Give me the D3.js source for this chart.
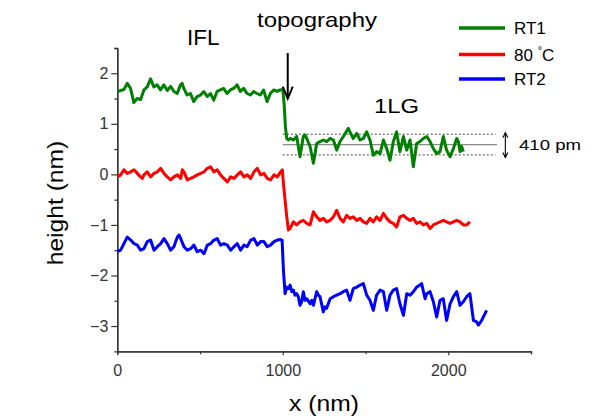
<!DOCTYPE html>
<html>
<head>
<meta charset="utf-8">
<script src="https://cdn.jsdelivr.net/npm/d3@7/dist/d3.min.js"></script>
<style>
  html, body { margin: 0; padding: 0; background: #ffffff; }
  svg { display: block; }
  text { font-family: "Liberation Sans", Arial, Helvetica, sans-serif; }
</style>
</head>
<body>
<svg id="chart" width="600" height="418"></svg>
<script>
// Height profiles across the IFL / 1LG step, [x (nm), height (nm)]
const rt1 = [
  [0,1.64],[40,1.68],[60,1.80],[80,1.70],[100,1.42],[120,1.50],[141,1.48],[161,1.67],
  [181,1.73],[201,1.89],[221,1.73],[241,1.77],[261,1.67],[281,1.77],[302,1.66],[322,1.74],
  [342,1.64],[362,1.60],[382,1.77],[392,1.80],[402,1.70],[422,1.57],[442,1.60],[462,1.44],
  [482,1.54],[503,1.57],[523,1.64],[543,1.54],[563,1.60],[583,1.47],[603,1.64],[623,1.67],
  [643,1.70],[663,1.60],[683,1.67],[703,1.70],[724,1.77],[744,1.64],[764,1.70],[784,1.60],
  [804,1.57],[824,1.64],[844,1.60],[864,1.57],[884,1.67],[905,1.44],[925,1.60],[945,1.67],
  [965,1.64],[985,1.67],[1000,1.68],[1008,1.40],[1016,0.94],[1024,0.71],[1034,0.68],
  [1044,0.71],[1064,0.68],[1084,0.75],[1104,0.35],[1124,0.75],[1134,0.78],[1145,0.71],
  [1165,0.55],[1185,0.22],[1205,0.61],[1225,0.65],[1245,0.68],[1265,0.65],[1286,0.71],
  [1306,0.68],[1326,0.48],[1346,0.65],[1366,0.75],[1396,0.91],[1406,0.84],[1426,0.71],
  [1447,0.81],[1467,0.68],[1487,0.71],[1507,0.84],[1527,0.68],[1547,0.38],[1567,0.45],
  [1588,0.41],[1608,0.68],[1628,0.51],[1648,0.28],[1668,0.65],[1688,0.84],[1708,0.45],
  [1729,0.75],[1749,0.48],[1769,0.68],[1789,0.15],[1809,0.61],[1829,0.65],[1849,0.71],
  [1870,0.75],[1890,0.65],[1910,0.51],[1930,0.41],[1950,0.45],[1970,0.75],[1990,0.48],
  [2011,0.35],[2031,0.51],[2051,0.71],[2061,0.65],[2071,0.45],[2081,0.55],[2091,0.45]
];

const heated = [
  [0,-0.05],[20,-0.01],[40,0.09],[60,0.02],[81,0.05],[101,0.09],[121,0.02],[141,-0.05],
  [151,-0.08],[161,-0.01],[181,0.05],[201,-0.05],[222,0.02],[242,0.05],[262,0.12],[282,0.02],
  [302,-0.05],[322,-0.11],[342,-0.05],[363,-0.01],[383,-0.08],[393,0.09],[403,0.05],[423,-0.11],
  [443,-0.08],[463,-0.05],[483,-0.01],[504,0.02],[524,0.05],[544,0.12],[564,0.15],[584,0.05],
  [604,0.09],[624,-0.01],[644,-0.08],[665,-0.15],[685,-0.05],[705,-0.08],[725,-0.01],[745,0.05],
  [765,-0.05],[785,-0.01],[806,-0.08],[826,0.05],[846,0.12],[866,-0.01],[886,0.02],[906,-0.08],
  [926,-0.11],[947,-0.01],[967,-0.05],[987,0.05],[997,0.09],[1004,-0.18],[1014,-0.51],
  [1024,-0.84],[1034,-1.10],[1044,-1.07],[1064,-0.94],[1084,-1.00],[1104,-0.94],[1124,-0.91],
  [1145,-0.97],[1165,-1.00],[1185,-0.74],[1205,-0.84],[1225,-0.91],[1245,-0.87],[1265,-0.94],
  [1286,-0.91],[1306,-0.84],[1326,-0.71],[1346,-0.87],[1366,-0.94],[1386,-0.81],[1406,-0.87],
  [1426,-0.84],[1447,-0.91],[1467,-0.87],[1487,-0.94],[1507,-0.97],[1527,-0.87],[1547,-0.94],
  [1567,-0.84],[1588,-0.91],[1608,-0.77],[1628,-0.87],[1648,-0.94],[1668,-0.97],[1688,-1.04],
  [1708,-0.84],[1729,-0.81],[1749,-0.87],[1769,-0.91],[1789,-0.87],[1809,-0.97],[1829,-0.94],
  [1849,-1.00],[1870,-0.97],[1890,-1.07],[1910,-1.00],[1930,-0.97],[1950,-0.94],[1970,-0.91],
  [1990,-0.94],[2011,-0.97],[2031,-0.94],[2051,-0.91],[2071,-0.94],[2091,-1.00],[2111,-1.00],
  [2131,-0.94]
];

const rt2 = [
  [0,-1.53],[20,-1.50],[40,-1.37],[60,-1.24],[81,-1.30],[101,-1.37],[121,-1.40],[141,-1.50],
  [161,-1.47],[181,-1.33],[201,-1.30],[222,-1.50],[242,-1.43],[262,-1.37],[282,-1.27],[302,-1.37],
  [322,-1.50],[342,-1.43],[363,-1.24],[373,-1.20],[383,-1.27],[403,-1.43],[423,-1.50],[443,-1.47],
  [463,-1.40],[483,-1.53],[504,-1.50],[524,-1.57],[544,-1.40],[564,-1.37],[584,-1.30],[604,-1.27],
  [624,-1.40],[644,-1.37],[665,-1.40],[685,-1.50],[705,-1.43],[725,-1.37],[745,-1.50],[765,-1.40],
  [785,-1.43],[806,-1.30],[826,-1.27],[846,-1.40],[866,-1.33],[886,-1.33],[906,-1.43],[926,-1.40],
  [947,-1.33],[967,-1.30],[987,-1.29],[996,-1.30],[1004,-1.90],[1014,-2.36],[1024,-2.23],
  [1034,-2.26],[1044,-2.19],[1054,-2.32],[1064,-2.29],[1074,-2.39],[1084,-2.36],[1094,-2.42],
  [1104,-2.59],[1114,-2.52],[1124,-2.32],[1134,-2.49],[1145,-2.46],[1165,-2.56],[1175,-2.49],
  [1185,-2.59],[1205,-2.32],[1215,-2.39],[1225,-2.42],[1245,-2.72],[1255,-2.62],[1265,-2.65],
  [1286,-2.46],[1306,-2.42],[1326,-2.39],[1346,-2.36],[1366,-2.32],[1386,-2.29],[1406,-2.49],
  [1426,-2.26],[1447,-2.23],[1467,-2.19],[1487,-2.16],[1507,-2.39],[1527,-2.49],[1547,-2.69],
  [1567,-2.39],[1588,-2.29],[1608,-2.32],[1628,-2.69],[1648,-2.39],[1668,-2.29],[1688,-2.26],
  [1708,-2.56],[1729,-2.79],[1749,-2.36],[1769,-2.39],[1789,-2.32],[1809,-2.23],[1829,-2.19],
  [1839,-2.16],[1860,-2.46],[1870,-2.36],[1890,-2.32],[1910,-2.52],[1930,-2.82],[1950,-2.49],
  [1970,-2.46],[1990,-2.89],[2011,-2.56],[2031,-2.42],[2051,-2.32],[2071,-2.59],[2091,-2.52],
  [2111,-2.42],[2131,-2.36],[2152,-2.89],[2172,-2.92],[2182,-2.98],[2202,-2.89],[2212,-2.82],
  [2232,-2.69]
];

const seriesNames = ["RT1", "80 °C", "RT2"];
const seriesColors = ["#008000", "#ff0000", "#0000ff"];

const xMajorTicks = [0, 1000, 2000];
const xMinorTicks = [500, 1500, 2500];
const yMajorTicks = [-3, -2, -1, 0, 1, 2];
const yMinorTicks = [-2.5, -1.5, -0.5, 0.5, 1.5, 2.5];

// Step height of the 1LG region on RT1: mean level and 410 pm band
const stepLevel = 0.59;
const stepHeight = 0.41;

const svg = d3.select("#chart");
const x = d3.scaleLinear().domain([0, 2500]).range([117.3, 531]);
const y = d3.scaleLinear().domain([-3.5, 2.5]).range([351.3, 48]);

// Text helper with optional horizontal stretch and rotation
function label(str, px, py, size, opts = {}) {
  const g = svg.append("g")
    .attr("transform", `translate(${px},${py}) rotate(${opts.rotate || 0}) scale(${opts.stretch || 1},1)`);
  return g.append("text")
    .attr("text-anchor", opts.anchor || "start")
    .attr("font-size", size)
    .attr("fill", opts.fill || "#000")
    .text(str);
}

// Axes: minor ticks first, then labelled major ticks
const axisColor = "#333";
function styleAxis(g) {
  g.selectAll("path.domain").attr("stroke", axisColor).attr("stroke-width", 1.3);
  g.selectAll(".tick line").attr("stroke", axisColor).attr("stroke-width", 1.2);
  g.selectAll(".tick text").attr("fill", "#333").attr("font-size", 16)
    .attr("font-family", "'Liberation Sans', Arial, sans-serif");
}

svg.append("g").attr("transform", `translate(0,${y(-3.5)})`)
  .call(d3.axisBottom(x).tickValues(xMinorTicks).tickSize(3).tickFormat(""))
  .call(styleAxis);
svg.append("g").attr("transform", `translate(0,${y(-3.5)})`)
  .call(d3.axisBottom(x).tickValues(xMajorTicks).tickSize(4).tickPadding(9).tickSizeOuter(0).tickFormat(d3.format("d")))
  .call(styleAxis);

svg.append("g").attr("transform", `translate(${x(0)},0)`)
  .call(d3.axisLeft(y).tickValues(yMinorTicks).tickSize(3).tickFormat(""))
  .call(styleAxis);
svg.append("g").attr("transform", `translate(${x(0)},0)`)
  .call(d3.axisLeft(y).tickValues(yMajorTicks).tickSize(6).tickPadding(3).tickSizeOuter(0).tickFormat(d3.format("d")))
  .call(styleAxis);

// Axis titles
label("x (nm)", 324, 411, 22, { anchor: "middle", stretch: 1.12 });
label("height (nm)", 63, 203, 22, { anchor: "middle", stretch: 1.12, rotate: -90 });

// 410 pm reference band on the 1LG terrace
svg.append("line")
  .attr("x1", x(1000)).attr("x2", x(2295))
  .attr("y1", y(stepLevel)).attr("y2", y(stepLevel))
  .attr("stroke", "#8a8a8a").attr("stroke-width", 1.3);
[stepLevel + stepHeight / 2, stepLevel - stepHeight / 2].forEach(v => {
  svg.append("line")
    .attr("x1", x(1000)).attr("x2", x(2285))
    .attr("y1", y(v)).attr("y2", y(v))
    .attr("stroke", "#444").attr("stroke-width", 1)
    .attr("stroke-dasharray", "2,2");
});

// Profiles
const line = d3.line().x(d => x(d[0])).y(d => y(d[1]));
[rt1, heated, rt2].forEach((data, i) => {
  svg.append("path")
    .datum(data)
    .attr("d", line)
    .attr("fill", "none")
    .attr("stroke", seriesColors[i])
    .attr("stroke-width", 3)
    .attr("stroke-linejoin", "round");
});

// Double-headed arrow marking the step height
const ax = x(2345), ayTop = y(stepLevel + stepHeight / 2) - 1.5, ayBot = y(stepLevel - stepHeight / 2) + 2.5;
svg.append("line").attr("x1", ax).attr("x2", ax).attr("y1", ayTop).attr("y2", ayBot)
  .attr("stroke", "#000").attr("stroke-width", 1.1);
svg.append("path")
  .attr("d", `M${ax - 2.5},${ayTop + 5} L${ax},${ayTop} L${ax + 2.5},${ayTop + 5} M${ax - 2.5},${ayBot - 5} L${ax},${ayBot} L${ax + 2.5},${ayBot - 5}`)
  .attr("fill", "none").attr("stroke", "#000").attr("stroke-width", 1.1);
label("410 pm", 519, 150, 15.5, { stretch: 1.2 });

// Topography arrow at the step edge
const tx = x(1030), tTop = y(2.4), tTip = y(1.5);
svg.append("line").attr("x1", tx).attr("x2", tx).attr("y1", tTop).attr("y2", tTip - 1)
  .attr("stroke", "#000").attr("stroke-width", 2);
svg.append("path")
  .attr("d", `M${tx - 5},${tTip - 12} L${tx},${tTip} L${tx + 5},${tTip - 12}`)
  .attr("fill", "none").attr("stroke", "#000").attr("stroke-width", 2);

// Region labels
label("topography", 257, 27, 20, { stretch: 1.2 });
label("IFL", 187, 45, 22, { stretch: 1.02 });
label("1LG", 374, 113, 20, { stretch: 1.19 });

// Legend
const legendRows = [28, 54.5, 79];
seriesNames.forEach((name, i) => {
  svg.append("line")
    .attr("x1", 459).attr("x2", 505)
    .attr("y1", legendRows[i]).attr("y2", legendRows[i])
    .attr("stroke", seriesColors[i]).attr("stroke-width", 3.5);
  const t = svg.append("text")
    .attr("x", 514).attr("y", legendRows[i] + 6)
    .attr("font-size", 17).attr("fill", "#000");
  if (name.includes("°")) {
    const parts = name.split("°");
    t.append("tspan").text(parts[0]);
    t.append("tspan").attr("font-size", 11).attr("dy", -7).text("°");
    t.append("tspan").attr("dy", 7).text(parts[1]);
  } else {
    t.text(name);
  }
});
</script>
</body>
</html>
